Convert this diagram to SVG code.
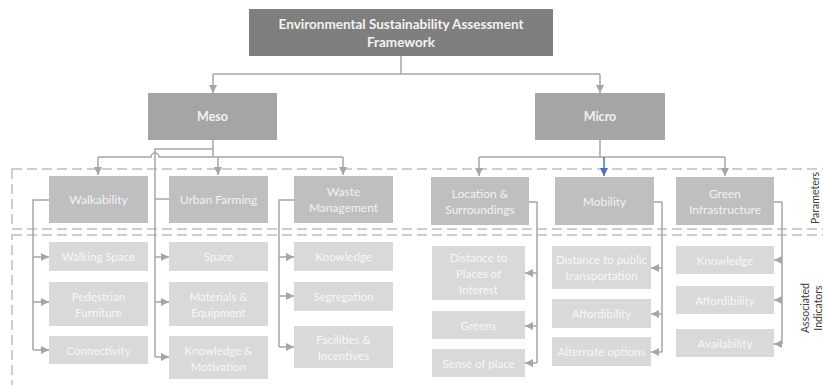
<svg xmlns="http://www.w3.org/2000/svg" width="823" height="385" viewBox="0 0 823 385">
<style>
text{font-family:Lato,"Liberation Sans",sans-serif;text-anchor:middle;dominant-baseline:central}
.top rect{fill:#7f7f7f}
.top text{fill:#f2f2f2;font-weight:bold;font-size:13.5px}
.lvl rect{fill:#a5a5a5}
.lvl text{fill:#f2f2f2;font-weight:bold;font-size:12.5px}
.par rect{fill:#bfbfbf}
.par text{fill:#f2f2f2;font-size:12px}
.ind rect{fill:#d9d9d9}
.ind text{fill:#f7f7f7;font-size:11.5px}
.c{fill:none;stroke:#a6a6a6;stroke-width:1.5}
.a{marker-end:url(#ah)}
.b{fill:none;stroke:#4472c4;stroke-width:1.5;marker-end:url(#bh)}
.d{fill:none;stroke:#bfbfbf;stroke-width:1.5;stroke-dasharray:10,5}
.lab{fill:#404040;font-size:10.5px}
</style>
<defs>
<marker id="ah" markerUnits="userSpaceOnUse" markerWidth="9" markerHeight="8" refX="8" refY="4" orient="auto"><path d="M0,0 L8,4 L0,8 z" fill="#a6a6a6"/></marker>
<marker id="bh" markerUnits="userSpaceOnUse" markerWidth="9" markerHeight="8" refX="8" refY="4" orient="auto"><path d="M0,0 L8,4 L0,8 z" fill="#4472c4"/></marker>
</defs>
<g id="regions">
<rect class="d" x="12" y="169" width="830" height="60"/>
<rect class="d" x="12" y="235" width="830" height="170"/>
<text class="lab" transform="translate(815,198) rotate(-90)">Parameters</text>
<text class="lab" transform="translate(805,308) rotate(-90)">Associated</text>
<text class="lab" transform="translate(818,308) rotate(-90)">Indicators</text>
</g>
<g id="connectors">
<path class="c" d="M401,56 V74 M213,74 H600"/>
<path class="c a" d="M213,74 V93"/>
<path class="c a" d="M600,74 V93"/>
<path class="c" d="M213,140 V157 M98,157 H151 a4,4 0 0 1 8,0 H343 M213,149 H155 V357"/>
<path class="c a" d="M98,157 V175"/>
<path class="c a" d="M218,157 V175"/>
<path class="c a" d="M343,157 V175"/>
<path class="c" d="M169,199 H155"/>
<path class="c a" d="M155,257 H169"/>
<path class="c a" d="M155,302 H169"/>
<path class="c a" d="M155,357 H169"/>
<path class="c" d="M49,200 H33 V350"/>
<path class="c a" d="M33,257 H49"/>
<path class="c a" d="M33,302 H49"/>
<path class="c a" d="M33,350 H49"/>
<path class="c" d="M294,200 H279 V347"/>
<path class="c a" d="M279,257 H294"/>
<path class="c a" d="M279,296 H294"/>
<path class="c a" d="M279,347 H294"/>
<path class="c" d="M600,140 V157 M479,157 H725"/>
<path class="c a" d="M479,157 V176"/>
<path class="c a" d="M725,157 V176"/>
<path class="b" d="M604,157 V176"/>
<path class="c" d="M529,202 H537 V363"/>
<path class="c a" d="M537,273 H525"/>
<path class="c a" d="M537,326 H525"/>
<path class="c a" d="M537,363 H525"/>
<path class="c" d="M654,202 H662 V352"/>
<path class="c a" d="M662,268 H651"/>
<path class="c a" d="M662,314 H651"/>
<path class="c a" d="M662,352 H651"/>
<path class="c" d="M774,202 H782 V344"/>
<path class="c a" d="M782,260 H774"/>
<path class="c a" d="M782,300 H774"/>
<path class="c a" d="M782,344 H774"/>
</g>
<g id="framework" class="top"><rect x="249" y="9" width="304" height="47"/><text x="401" y="24">Environmental Sustainability Assessment</text><text x="401" y="42">Framework</text></g>
<g id="meso" class="lvl"><rect x="148" y="93" width="129" height="47"/><text x="212.5" y="116.5">Meso</text></g>
<g id="micro" class="lvl"><rect x="535" y="93" width="130" height="47"/><text x="600" y="116.5">Micro</text></g>
<g id="walkability" class="par"><rect x="49" y="176" width="99" height="47"/><text x="98.5" y="199.5">Walkability</text></g>
<g id="urban-farming" class="par"><rect x="169" y="176" width="99" height="47"/><text x="218.5" y="199.5">Urban Farming</text></g>
<g id="waste-management" class="par"><rect x="294" y="176" width="99" height="47"/><text x="343.5" y="191.5">Waste</text><text x="343.5" y="207.5">Management</text></g>
<g id="location" class="par"><rect x="431" y="177" width="98" height="48"/><text x="480" y="193">Location &amp;</text><text x="480" y="209">Surroundings</text></g>
<g id="mobility" class="par"><rect x="555" y="177" width="99" height="48"/><text x="604.5" y="201">Mobility</text></g>
<g id="green-infrastructure" class="par"><rect x="676" y="177" width="98" height="48"/><text x="725" y="193">Green</text><text x="725" y="209">Infrastructure</text></g>
<g id="walking-space" class="ind"><rect x="49" y="242" width="99" height="29"/><text x="98.5" y="256.5">Walking Space</text></g>
<g id="pedestrian-furniture" class="ind"><rect x="49" y="282" width="99" height="44"/><text x="98.5" y="296">Pedestrian</text><text x="98.5" y="312">Furniture</text></g>
<g id="connectivity" class="ind"><rect x="49" y="336" width="99" height="28"/><text x="98.5" y="350">Connectivity</text></g>
<g id="space" class="ind"><rect x="169" y="242" width="99" height="29"/><text x="218.5" y="256.5">Space</text></g>
<g id="materials" class="ind"><rect x="169" y="282" width="99" height="44"/><text x="218.5" y="296">Materials &amp;</text><text x="218.5" y="312">Equipment</text></g>
<g id="knowledge-motivation" class="ind"><rect x="169" y="336" width="99" height="43"/><text x="218.5" y="350">Knowledge &amp;</text><text x="218.5" y="366">Motivation</text></g>
<g id="knowledge-waste" class="ind"><rect x="294" y="242" width="99" height="29"/><text x="343.5" y="256.5">Knowledge</text></g>
<g id="segregation" class="ind"><rect x="294" y="282" width="99" height="29"/><text x="343.5" y="296.5">Segregation</text></g>
<g id="facilities" class="ind"><rect x="294" y="326" width="99" height="42"/><text x="343.5" y="339">Facilities &amp;</text><text x="343.5" y="355">Incentives</text></g>
<g id="distance-places" class="ind"><rect x="432" y="246" width="93" height="54"/><text x="478.5" y="257">Distance to</text><text x="478.5" y="273">Places of</text><text x="478.5" y="289">Interest</text></g>
<g id="greens" class="ind"><rect x="432" y="311" width="93" height="28"/><text x="478.5" y="325">Greens</text></g>
<g id="sense-of-place" class="ind"><rect x="432" y="349" width="93" height="28"/><text x="478.5" y="363">Sense of place</text></g>
<g id="distance-transport" class="ind"><rect x="552" y="246" width="99" height="43"/><text x="601.5" y="259.5">Distance to public</text><text x="601.5" y="275.5">transportation</text></g>
<g id="affordibility-mobility" class="ind"><rect x="552" y="299" width="99" height="29"/><text x="601.5" y="313.5">Affordibility</text></g>
<g id="alternate-options" class="ind"><rect x="552" y="337" width="99" height="29"/><text x="601.5" y="351.5">Alternate options</text></g>
<g id="knowledge-green" class="ind"><rect x="676" y="246" width="98" height="28"/><text x="725" y="260">Knowledge</text></g>
<g id="affordibility-green" class="ind"><rect x="676" y="286" width="98" height="28"/><text x="725" y="300">Affordibility</text></g>
<g id="availability" class="ind"><rect x="676" y="329" width="98" height="28"/><text x="725" y="343">Availability</text></g>
</svg>
